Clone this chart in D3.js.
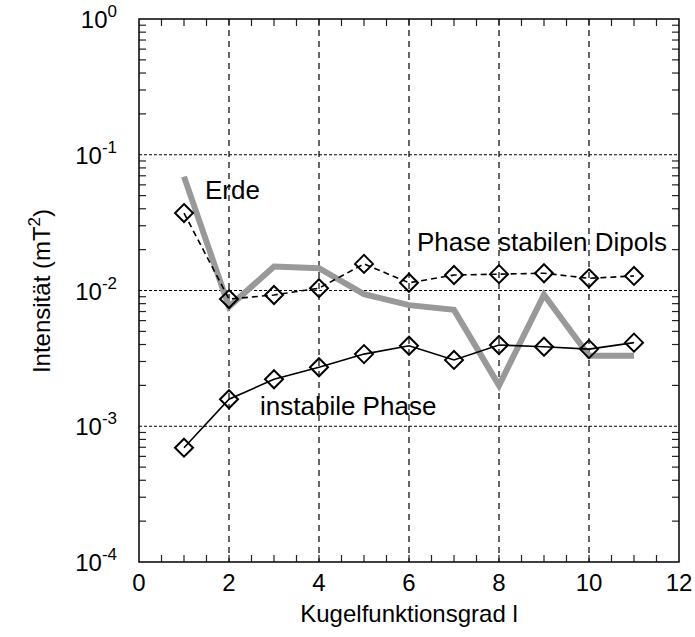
<!DOCTYPE html>
<html>
<head>
<meta charset="utf-8">
<script src="https://cdn.jsdelivr.net/npm/d3@7"></script>
<style>
  body { margin: 0; background: #fff; }
  text { font-family: "Liberation Sans", Arial, sans-serif; fill: #000; }
</style>
</head>
<body>
<div id="chart"></div>
<script>
// Kugelfunktionsgrad l
var degrees = [1, 2, 3, 4, 5, 6, 7, 8, 9, 10, 11];
// Phase stabilen Dipols (dashed, diamonds)
var dipolValues = [0.0372, 0.00865, 0.00927, 0.0104, 0.0157, 0.0114, 0.0130, 0.0132, 0.0134, 0.0123, 0.0128];
// instabile Phase (solid, diamonds)
var instabilValues = [0.000695, 0.00158, 0.00222, 0.00272, 0.00340, 0.00392, 0.00308, 0.00397, 0.00385, 0.00370, 0.00413];
// Erde (thick grey line)
var erdeValues = [0.069, 0.0076, 0.0150, 0.0146, 0.0094, 0.0078, 0.0072, 0.0020, 0.0093, 0.0033, 0.0033];

var xTicks = [0, 2, 4, 6, 8, 10, 12];
var yExponents = [0, -1, -2, -3, -4];

var w = 695, h = 637;
var plotL = 139, plotR = 679, plotT = 19, plotB = 562;

var svg = d3.select("#chart")
    .append("svg")
    .attr("width", w)
    .attr("height", h);

var x = d3.scaleLinear().domain([0, 12]).range([plotL, plotR]);
var y = d3.scaleLog().domain([1e-4, 1]).range([plotB, plotT]);

//vertical dashed grid at even degrees
svg.selectAll(".vgrid")
    .data([2, 4, 6, 8, 10])
    .enter()
    .append("line")
    .attr("x1", function (d) { return x(d); })
    .attr("x2", function (d) { return x(d); })
    .attr("y1", plotT)
    .attr("y2", plotB)
    .style("stroke", "#000")
    .style("stroke-width", 1.2)
    .style("stroke-dasharray", "6,5");

//horizontal dotted grid at decades
svg.selectAll(".hgrid")
    .data([-1, -2, -3])
    .enter()
    .append("line")
    .attr("x1", plotL)
    .attr("x2", plotR)
    .attr("y1", function (d) { return y(Math.pow(10, d)); })
    .attr("y2", function (d) { return y(Math.pow(10, d)); })
    .style("stroke", "#000")
    .style("stroke-width", 1)
    .style("stroke-dasharray", "3,2");

//minor ticks on x (every 0.5), bottom and top, pointing inward
var xMinor = d3.range(0.5, 12, 0.5);
svg.selectAll(".xtickb")
    .data(xMinor)
    .enter()
    .append("line")
    .attr("x1", function (d) { return x(d); })
    .attr("x2", function (d) { return x(d); })
    .attr("y1", plotB)
    .attr("y2", plotB - 7)
    .style("stroke", "#222")
    .style("stroke-width", 1.2);
svg.selectAll(".xtickt")
    .data(xMinor)
    .enter()
    .append("line")
    .attr("x1", function (d) { return x(d); })
    .attr("x2", function (d) { return x(d); })
    .attr("y1", plotT)
    .attr("y2", plotT + 7)
    .style("stroke", "#222")
    .style("stroke-width", 1.2);

//minor ticks on y (2..9 of each decade), left and right
var yMinor = [];
for (var e = -4; e < 0; e++) {
    for (var m = 2; m <= 9; m++) {
        yMinor.push(m * Math.pow(10, e));
    }
}
svg.selectAll(".ytickl")
    .data(yMinor)
    .enter()
    .append("line")
    .attr("x1", plotL)
    .attr("x2", plotL + 7)
    .attr("y1", function (d) { return y(d); })
    .attr("y2", function (d) { return y(d); })
    .style("stroke", "#222")
    .style("stroke-width", 1.2);
svg.selectAll(".ytickr")
    .data(yMinor)
    .enter()
    .append("line")
    .attr("x1", plotR)
    .attr("x2", plotR - 7)
    .attr("y1", function (d) { return y(d); })
    .attr("y2", function (d) { return y(d); })
    .style("stroke", "#222")
    .style("stroke-width", 1.2);

//frame
svg.append("rect")
    .attr("x", plotL)
    .attr("y", plotT)
    .attr("width", plotR - plotL)
    .attr("height", plotB - plotT)
    .style("fill", "none")
    .style("stroke", "#000")
    .style("stroke-width", 1.5);

//x tick labels
svg.selectAll(".xlabel")
    .data(xTicks)
    .enter()
    .append("text")
    .attr("x", function (d) { return x(d); })
    .attr("y", plotB + 29)
    .attr("text-anchor", "middle")
    .style("font-size", "24px")
    .text(function (d) { return d; });

//y tick labels as 10^n
var yLabels = svg.selectAll(".ylabel")
    .data(yExponents)
    .enter()
    .append("text")
    .attr("x", plotL - 22)
    .attr("y", function (d) { return y(Math.pow(10, d)) + 9; })
    .attr("text-anchor", "end")
    .style("font-size", "24px");
yLabels.append("tspan").text("10");
yLabels.append("tspan")
    .attr("dy", -11)
    .style("font-size", "17px")
    .text(function (d) { return d; });

//axis titles
svg.append("text")
    .attr("x", 409)
    .attr("y", 622)
    .attr("text-anchor", "middle")
    .style("font-size", "24px")
    .text("Kugelfunktionsgrad l");

var yTitle = svg.append("text")
    .attr("transform", "translate(50,291) rotate(-90)")
    .attr("text-anchor", "middle")
    .style("font-size", "24px");
yTitle.append("tspan").text("Intensität (mT");
yTitle.append("tspan").attr("dy", -10).style("font-size", "17px").text("2");
yTitle.append("tspan").attr("dy", 10).text(")");

var line = d3.line()
    .x(function (d) { return x(d[0]); })
    .y(function (d) { return y(d[1]); });

function pairs(vals) {
    return degrees.map(function (d, i) { return [d, vals[i]]; });
}

//Erde: thick grey line
svg.append("path")
    .datum(pairs(erdeValues))
    .attr("d", line)
    .style("fill", "none")
    .style("stroke", "#999")
    .style("stroke-width", 6);

//Phase stabilen Dipols: dashed
svg.append("path")
    .datum(pairs(dipolValues))
    .attr("d", line)
    .style("fill", "none")
    .style("stroke", "#000")
    .style("stroke-width", 1.6)
    .style("stroke-dasharray", "6,4");

//instabile Phase: solid
svg.append("path")
    .datum(pairs(instabilValues))
    .attr("d", line)
    .style("fill", "none")
    .style("stroke", "#000")
    .style("stroke-width", 1.6);

//diamond markers
var diamond = "M0,-9L9,0L0,9L-9,0Z";
[dipolValues, instabilValues].forEach(function (vals) {
    svg.selectAll(null)
        .data(pairs(vals))
        .enter()
        .append("path")
        .attr("d", diamond)
        .attr("transform", function (d) { return "translate(" + x(d[0]) + "," + y(d[1]) + ")"; })
        .style("fill", "none")
        .style("stroke", "#000")
        .style("stroke-width", 2);
});

//series labels
svg.append("text").attr("x", 205).attr("y", 199).style("font-size", "26px").text("Erde");
svg.append("text").attr("x", 417).attr("y", 251).style("font-size", "26px").text("Phase stabilen Dipols");
svg.append("text").attr("x", 260).attr("y", 415).style("font-size", "26px").text("instabile Phase");
</script>
</body>
</html>
